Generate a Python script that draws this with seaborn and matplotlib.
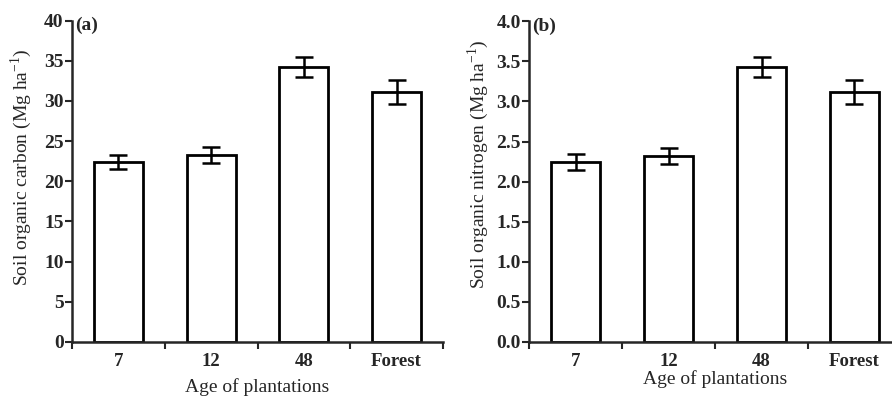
import matplotlib
matplotlib.use("Agg")
import matplotlib.pyplot as plt
import seaborn as sns
import numpy as np
import pandas as pd

categories = ["7", "12", "48", "Forest"]
carbon = [22.4, 23.25, 34.2, 31.1]
carbon_err = [0.9, 1.0, 1.25, 1.5]
nitrogen = [2.24, 2.32, 3.43, 3.12]
nitrogen_err = [0.1, 0.1, 0.125, 0.15]

sns.set_style("ticks")
plt.rcParams['font.family'] = ['Liberation Serif', 'DejaVu Serif']
plt.rcParams['mathtext.fontset'] = 'custom'
plt.rcParams['mathtext.rm'] = 'Liberation Serif'

fig = plt.figure(figsize=(8.92, 3.96), dpi=100)
ax1 = fig.add_axes([72/892, 54/396, 371/892, 321.5/396])
ax2 = fig.add_axes([529/892, 54/396, 372/892, 320.7/396])

def panel(ax, vals, errs, ymax, step, fmt, ylabel, tag, labelpad_x, labelpad_y, label_y):
    df = pd.DataFrame({"age": categories, "val": vals})
    sns.barplot(data=df, x="age", y="val", ax=ax, color="white",
                edgecolor="black", linewidth=2.0, width=0.53, errorbar=None,
                saturation=1)
    x = np.arange(len(categories))
    ax.errorbar(x, vals, yerr=errs, fmt="none", ecolor="black",
                elinewidth=1.8, capsize=6.5, capthick=1.8)
    ax.set_xlim(-0.5, 3.5)
    ax.set_ylim(0, ymax)
    ticks = np.arange(0, ymax + step / 2, step)
    ax.set_yticks(ticks)
    ax.set_yticklabels([fmt.format(v) for v in ticks],
                       fontweight="bold", fontsize=14)
    ax.set_xticks(x)
    ax.set_xticklabels(categories, fontweight="bold", fontsize=13.5)
    ax.tick_params(axis="x", which="major", length=0, pad=8)
    ax.set_xticks(np.arange(-0.5, 3.6, 1.0), minor=True)
    ax.tick_params(axis="x", which="minor", length=5, width=1.5, direction="out")
    ax.tick_params(axis="y", length=5, width=1.5, direction="out", pad=1)
    for s in ["top", "right"]:
        ax.spines[s].set_visible(False)
    for s in ["left", "bottom"]:
        ax.spines[s].set_linewidth(1.8)
    ax.set_xlabel("Age of plantations", fontsize=14, labelpad=labelpad_x)
    ax.set_ylabel(ylabel, fontsize=14, labelpad=labelpad_y)
    ax.yaxis.label.set_y(label_y)
    ax.text(0.008, 0.985, tag, transform=ax.transAxes, fontsize=14,
            fontweight="bold", va="center", ha="left")

panel(ax1, carbon, carbon_err, 40, 5, "{:.0f}",
      "Soil organic carbon (Mg ha$^{-1}$)", "(a)", 6, 7, 0.544)
panel(ax2, nitrogen, nitrogen_err, 4.0, 0.5, "{:.1f}",
      "Soil organic nitrogen (Mg ha$^{-1}$)", "(b)", 0, 4, 0.555)

fig.savefig("out.png", dpi=100)
